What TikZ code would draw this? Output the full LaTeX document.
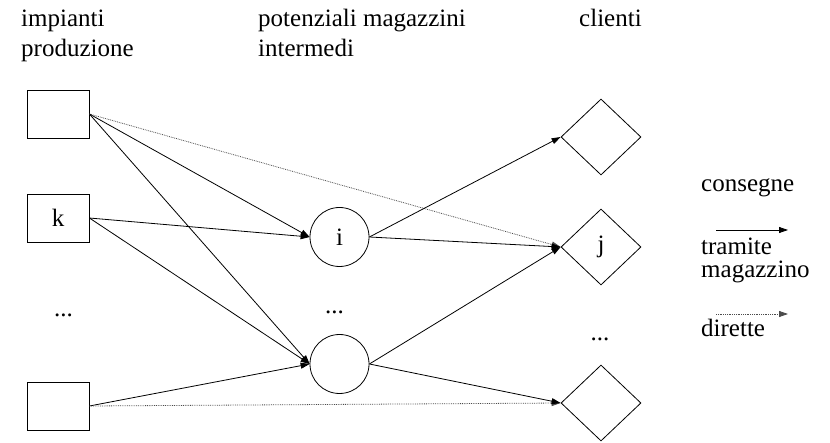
\documentclass[tikz,border=0pt]{standalone}
\usepackage{fontspec}
\setmainfont{Liberation Serif}
\usetikzlibrary{arrows.meta,shapes.geometric}

\begin{document}
\begin{tikzpicture}[x=1pt, y=-1pt,
    every node/.style={font=\fontsize{25}{30}\selectfont},
    impianto/.style={draw, rectangle, line width=0.8pt, minimum width=62pt, minimum height=48pt, inner sep=0pt},
    magazzino/.style={draw, circle, line width=0.8pt, minimum size=59pt, inner sep=0pt},
    cliente/.style={draw, diamond, line width=0.8pt, minimum width=80pt, minimum height=76pt, inner sep=0pt},
    titolo/.style={anchor=base west, align=left, inner sep=0pt},
    puntini/.style={anchor=base, inner sep=0pt},
    tramite/.style={line width=0.8pt, -{Triangle[length=9pt,width=6pt]}},
    diretta/.style={line width=0.8pt, densely dotted, black!70, -{Triangle[length=9pt,width=6pt]}}]
    \useasboundingbox (0,0) rectangle (830,443);
    % intestazioni (base = ultima riga)
    \node[titolo] (t1) at (21, 57) {impianti\\produzione};
    \node[titolo] (t2) at (258, 57) {potenziali magazzini\\intermedi};
    \node[titolo] (t3) at (579, 27) {clienti};
    \node[impianto] (imp1) at (58, 114) {};
    \node[impianto] (impk) at (58, 218) {k};
    \node[impianto] (impn) at (58, 406) {};
    \node[puntini] (d1) at (63.5, 317) {...};
    \node[magazzino] (magi) at (339.5, 237) {i};
    \node[magazzino] (magn) at (339.5, 364) {};
    \node[puntini] (d2) at (334.5, 314) {...};
    \node[cliente] (cli1) at (601, 137) {};
    \node[cliente] (clij) at (601, 247) {j};
    \node[cliente] (clin) at (601, 403) {};
    \node[puntini] (d3) at (600, 341) {...};
    \draw[tramite] (imp1.east) to (magi.west);
    \draw[tramite] (imp1.east) to (magn.west);
    \draw[diretta] (imp1.east) to (clij.west);
    \draw[tramite] (impk.east) to (magi.west);
    \draw[tramite] (impk.east) to (magn.west);
    \draw[tramite] (impn.east) to (magn.west);
    \draw[diretta] (impn.east) to (clin.west);
    \draw[tramite] (magi.east) to (cli1.west);
    \draw[tramite] (magi.east) to (clij.west);
    \draw[tramite] (magn.east) to (clij.west);
    \draw[tramite] (magn.east) to (clin.west);
    % legenda
    \node[titolo] (l1) at (701, 192) {consegne};
    \coordinate (s1) at (716, 230);
    \coordinate (e1) at (788, 230);
    \draw[tramite] (s1) to (e1);
    \node[titolo, font=\fontsize{25}{23}\selectfont] (l2) at (701, 278) {tramite\\magazzino};
    \coordinate (s2) at (716, 314);
    \coordinate (e2) at (788, 314);
    \draw[diretta] (s2) to (e2);
    \node[titolo] (l3) at (701, 337) {dirette};
\end{tikzpicture}
\end{document}
